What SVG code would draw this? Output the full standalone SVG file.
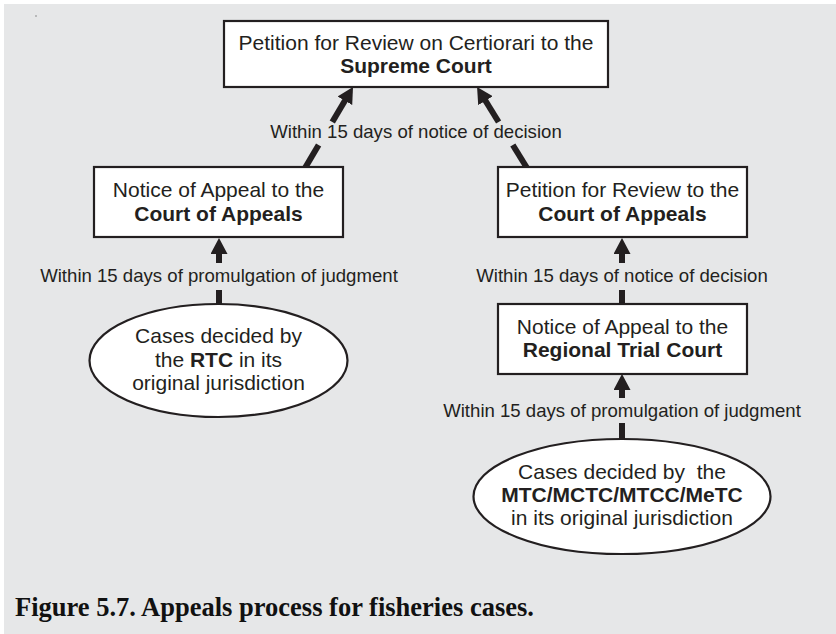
<svg xmlns="http://www.w3.org/2000/svg" width="836" height="634" viewBox="0 0 836 634">
<style>
.bg{fill:#e6e7e8}
.box{fill:#fff;stroke:#231f20;stroke-width:2.2}
.t{font-family:"Liberation Sans",Arial,sans-serif;font-size:21px;fill:#231f20;text-anchor:middle}
.lbl{font-family:"Liberation Sans",Arial,sans-serif;font-size:18.6px;fill:#231f20;text-anchor:middle}
.b{font-weight:bold}
.cap{font-family:"Liberation Serif","Times New Roman",serif;font-size:26.5px;font-weight:bold;fill:#111}
.sh{stroke:#231f20;stroke-width:6;fill:none}
</style>
<defs>
<marker id="ah" viewBox="0 0 16 17" refX="2" refY="8.5" markerWidth="16" markerHeight="17" markerUnits="userSpaceOnUse" orient="auto">
<path d="M0,0 L16,8.5 L0,17 Z" fill="#231f20"/>
</marker>
</defs>
<rect class="bg" x="4" y="4" width="832" height="630"/>
<rect x="35.5" y="15.5" width="1" height="1" fill="#333"/>

<g id="connectors">
<line class="sh" x1="332.3" y1="122" x2="345.9" y2="99" marker-end="url(#ah)"/>
<line class="sh" x1="305" y1="168" x2="318.6" y2="145"/>
<line class="sh" x1="498.6" y1="122" x2="484.4" y2="99" marker-end="url(#ah)"/>
<line class="sh" x1="527" y1="168" x2="512.8" y2="145"/>
<text class="lbl" x="416" y="138">Within 15 days of notice of decision</text>

<line class="sh" x1="219" y1="263" x2="219" y2="252" marker-end="url(#ah)"/>
<line class="sh" x1="219" y1="290" x2="219" y2="304"/>
<text class="lbl" x="219" y="282">Within 15 days of promulgation of judgment</text>

<line class="sh" x1="622" y1="263" x2="622" y2="252" marker-end="url(#ah)"/>
<line class="sh" x1="622" y1="290" x2="622" y2="304"/>
<text class="lbl" x="622" y="282">Within 15 days of notice of decision</text>

<line class="sh" x1="622" y1="398" x2="622" y2="388" marker-end="url(#ah)"/>
<line class="sh" x1="622" y1="423" x2="622" y2="440"/>
<text class="lbl" x="622" y="417">Within 15 days of promulgation of judgment</text>
</g>

<g id="supreme">
<rect class="box" x="224" y="21" width="384" height="66"/>
<text class="t" x="416" y="50">Petition for Review on Certiorari to the</text>
<text class="t b" x="416" y="73">Supreme Court</text>
</g>

<g id="ca-notice">
<rect class="box" x="94" y="167" width="249" height="70"/>
<text class="t" x="218.5" y="197">Notice of Appeal to the</text>
<text class="t b" x="218.5" y="221">Court of Appeals</text>
</g>

<g id="ca-petition">
<rect class="box" x="498" y="167" width="249" height="70"/>
<text class="t" x="622.5" y="197">Petition for Review to the</text>
<text class="t b" x="622.5" y="221">Court of Appeals</text>
</g>

<g id="rtc-notice">
<rect class="box" x="498" y="304" width="249" height="70"/>
<text class="t" x="622.5" y="334">Notice of Appeal to the</text>
<text class="t b" x="622.5" y="357">Regional Trial Court</text>
</g>

<g id="rtc-cases">
<ellipse class="box" cx="218.5" cy="360.5" rx="129" ry="56.5"/>
<text class="t" x="218.5" y="343">Cases decided by</text>
<text class="t" x="218.5" y="367">the <tspan class="b">RTC</tspan> in its</text>
<text class="t" x="218.5" y="390">original jurisdiction</text>
</g>

<g id="mtc-cases">
<ellipse class="box" cx="622" cy="496.5" rx="148.5" ry="57.5"/>
<text class="t" x="622" y="479" xml:space="preserve">Cases decided by  the</text>
<text class="t b" x="622" y="502">MTC/MCTC/MTCC/MeTC</text>
<text class="t" x="622" y="525">in its original jurisdiction</text>
</g>

<text class="cap" x="15" y="616">Figure 5.7. Appeals process for fisheries cases.</text>
</svg>
